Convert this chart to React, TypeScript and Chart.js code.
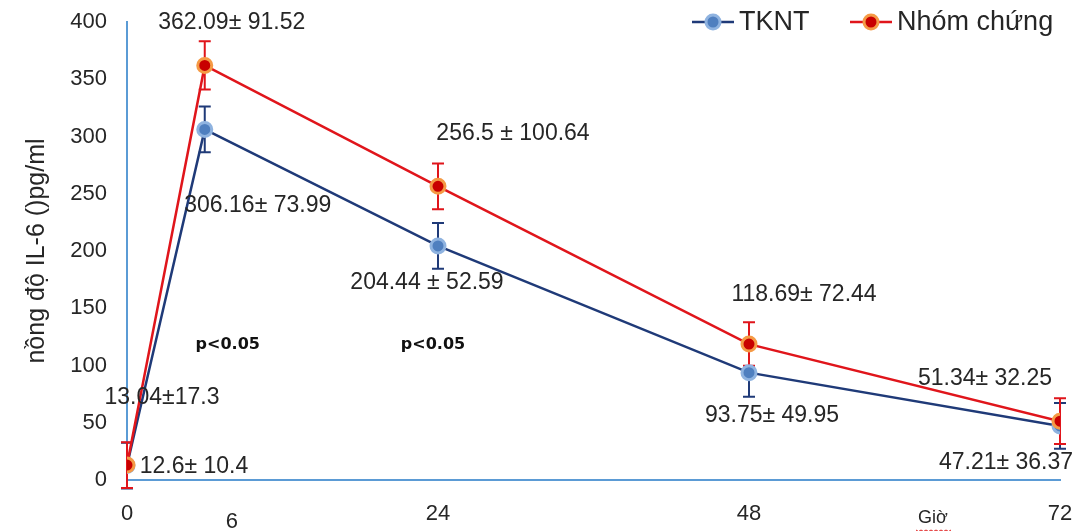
import React, { useEffect, useRef } from "react";
import { Chart, registerables } from "chart.js";

Chart.register(...registerables);

const hours = [0, 6, 24, 48, 72];
const xTickValues = [0, 24, 48, 72];
const tkntMean = [12.6, 306.16, 204.44, 93.75, 47.21];
const tkntErr = [20, 20, 20, 21, 20];
const controlMean = [13.04, 362.09, 256.5, 118.69, 51.34];
const controlErr = [20, 21, 20, 19, 20];
const tkntLabels = ["12.6± 10.4", "306.16± 73.99", "204.44 ± 52.59", "93.75± 49.95", "47.21± 36.37"];
const controlLabels = ["13.04±17.3", "362.09± 91.52", "256.5 ± 100.64", "118.69± 72.44", "51.34± 32.25"];
const pNotes = ["p<0.05", "p<0.05"];
const pHours = [6, 24];
const pLevel = 118;
const seriesNames = ["TKNT", "Nhóm chứng"];
const yTitle = "nồng độ IL-6 ()pg/ml";
const xUnit = "Giờ";

const tkntLabelOffsets = [[67, 1], [53, 76], [-11, 37], [23, 43], [-54, 37]];
const controlLabelOffsets = [[35, -67], [27, -43], [75, -53], [55, -49], [-75, -43]];
const pOffsets = [[23, 0], [-5, 0]];

const BLUE_LINE = "#1F3A78";
const BLUE_FILL = "#4F7FBF";
const BLUE_BORDER = "#8FB3E0";
const RED_LINE = "#E0151B";
const RED_FILL = "#C80000";
const RED_BORDER = "#F59A45";
const AXIS = "#5B9BD5";
const TEXT = "#262626";
const FONT = "'Liberation Sans', Arial, sans-serif";

const overlay = {
  id: "overlay",
  beforeDatasetsDraw(chart: any) {
    const ctx = chart.ctx;
    const xs = chart.scales.x;
    const ys = chart.scales.y;
    const drawErr = (means: number[], errs: number[], color: string) => {
      ctx.save();
      ctx.strokeStyle = color;
      ctx.lineWidth = 2;
      means.forEach((m, i) => {
        const x = xs.getPixelForValue(hours[i]);
        const t = ys.getPixelForValue(m + errs[i]);
        const b = ys.getPixelForValue(m - errs[i]);
        ctx.beginPath();
        ctx.moveTo(x, t);
        ctx.lineTo(x, b);
        ctx.moveTo(x - 6, t);
        ctx.lineTo(x + 6, t);
        ctx.moveTo(x - 6, b);
        ctx.lineTo(x + 6, b);
        ctx.stroke();
      });
      ctx.restore();
    };
    drawErr(tkntMean, tkntErr, BLUE_LINE);
    drawErr(controlMean, controlErr, RED_LINE);
  },
  afterDatasetsDraw(chart: any) {
    const ctx = chart.ctx;
    const xs = chart.scales.x;
    const ys = chart.scales.y;
    ctx.save();
    ctx.fillStyle = TEXT;
    ctx.textAlign = "center";
    ctx.textBaseline = "middle";
    ctx.font = `23px ${FONT}`;
    const drawLabels = (means: number[], labels: string[], offs: number[][]) => {
      means.forEach((m, i) => {
        const x = xs.getPixelForValue(hours[i]) + offs[i][0];
        const y = ys.getPixelForValue(m) + offs[i][1];
        ctx.fillText(labels[i], x, y);
      });
    };
    drawLabels(tkntMean, tkntLabels, tkntLabelOffsets);
    drawLabels(controlMean, controlLabels, controlLabelOffsets);

    ctx.font = `bold 16px 'DejaVu Sans', sans-serif`;
    ctx.fillStyle = "#111";
    pNotes.forEach((t, i) => {
      ctx.fillText(t, xs.getPixelForValue(pHours[i]) + pOffsets[i][0], ys.getPixelForValue(pLevel) + pOffsets[i][1]);
    });
    ctx.fillStyle = TEXT;

    // extra "6" tick label and unit
    ctx.font = `22px ${FONT}`;
    ctx.fillText("6", xs.getPixelForValue(6) + 27, chart.chartArea.bottom + 42);
    ctx.font = `18px ${FONT}`;
    const ux = xs.getPixelForValue(62.2);
    const uy = chart.chartArea.bottom + 38;
    ctx.fillText(xUnit, ux, uy);
    ctx.strokeStyle = "#E02020";
    ctx.lineWidth = 1;
    ctx.beginPath();
    for (let k = 0; k <= 14; k++) {
      const px = ux - 17 + k * 2.5;
      const py = uy + 12 + (k % 2 === 0 ? 0 : 1.5);
      if (k === 0) ctx.moveTo(px, py);
      else ctx.lineTo(px, py);
    }
    ctx.stroke();

    // legend
    const ly = 22;
    const drawEntry = (x0: number, line: string, fill: string, border: string, name: string) => {
      ctx.strokeStyle = line;
      ctx.lineWidth = 2.5;
      ctx.beginPath();
      ctx.moveTo(x0, ly);
      ctx.lineTo(x0 + 42, ly);
      ctx.stroke();
      ctx.beginPath();
      ctx.arc(x0 + 21, ly, 7, 0, Math.PI * 2);
      ctx.fillStyle = fill;
      ctx.fill();
      ctx.lineWidth = 3;
      ctx.strokeStyle = border;
      ctx.stroke();
      ctx.fillStyle = TEXT;
      ctx.textAlign = "left";
      ctx.font = `27px ${FONT}`;
      ctx.fillText(name, x0 + 47, ly + 1);
    };
    drawEntry(692, BLUE_LINE, BLUE_FILL, BLUE_BORDER, seriesNames[0]);
    drawEntry(850, RED_LINE, RED_FILL, RED_BORDER, seriesNames[1]);
    ctx.restore();
  },
};

const zeroPad = (s: any) => {
  s.paddingTop = 0;
  s.paddingBottom = 0;
  s.paddingLeft = 0;
  s.paddingRight = 0;
};

export default function App() {
  const ref = useRef<HTMLCanvasElement>(null);
  useEffect(() => {
    document.body.style.margin = "0";
    const chart = new Chart(ref.current as HTMLCanvasElement, {
      type: "line",
      data: {
        datasets: [
          {
            label: seriesNames[1],
            data: hours.map((h, i) => ({ x: h, y: controlMean[i] })),
            borderColor: RED_LINE,
            borderWidth: 2.5,
            pointBackgroundColor: RED_FILL,
            pointBorderColor: RED_BORDER,
            pointBorderWidth: 3,
            pointRadius: 7,
            order: 0,
          },
          {
            label: seriesNames[0],
            data: hours.map((h, i) => ({ x: h, y: tkntMean[i] })),
            borderColor: BLUE_LINE,
            borderWidth: 2.5,
            pointBackgroundColor: BLUE_FILL,
            pointBorderColor: BLUE_BORDER,
            pointBorderWidth: 3,
            pointRadius: 7,
            order: 1,
          },
        ],
      },
      options: {
        animation: false,
        responsive: false,
        layout: { padding: { top: 22, right: 27, left: 0, bottom: 0 } },
        plugins: { legend: { display: false }, tooltip: { enabled: false } },
        scales: {
          x: {
            type: "linear",
            min: 0,
            max: 72,
            afterBuildTicks: (s: any) => {
              s.ticks = xTickValues.map((v) => ({ value: v }));
            },
            afterFit: (s: any) => {
              s.height = 51;
              zeroPad(s);
            },
            grid: { display: false, drawTicks: false },
            border: { color: AXIS, width: 2 },
            ticks: { color: TEXT, font: { size: 22, family: FONT }, padding: 21, maxRotation: 0 },
          },
          y: {
            min: 0,
            max: 400,
            afterFit: (s: any) => {
              s.width = 127;
              zeroPad(s);
            },
            grid: { display: false, drawTicks: false },
            border: { color: AXIS, width: 2 },
            ticks: { stepSize: 50, color: TEXT, font: { size: 22, family: FONT }, padding: 20 },
            title: {
              display: true,
              text: yTitle,
              color: TEXT,
              font: { size: 25, family: FONT },
              padding: { top: 22, bottom: 0 },
            },
          },
        },
      } as any,
      plugins: [overlay],
    });
    return () => chart.destroy();
  }, []);
  return <canvas ref={ref} width={1087} height={531} style={{ display: "block" }} />;
}
